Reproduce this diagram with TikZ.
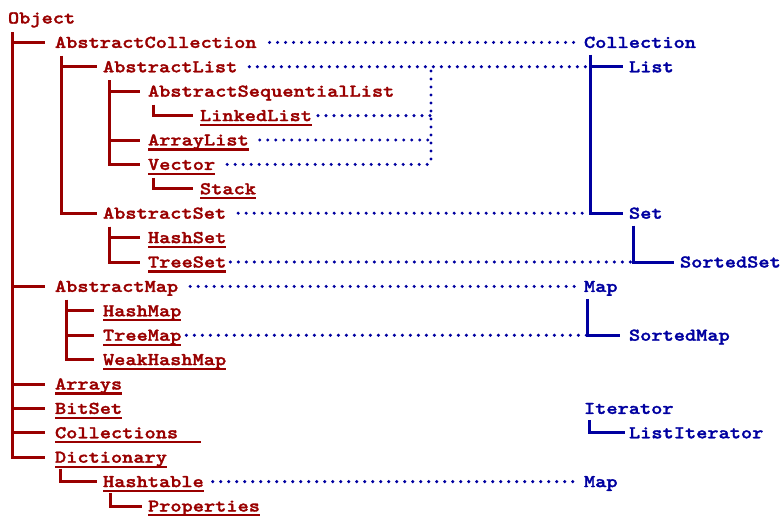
\documentclass[tikz,border=0pt]{standalone}
\usepackage{fontspec}
\newfontfamily\cfont{lmmonolt10-bold.otf}[FakeStretch=1.185, FakeBold=1.6]
\usetikzlibrary{calc}
\definecolor{cred}{RGB}{153,0,0}
\definecolor{cblue}{RGB}{0,0,160}
\begin{document}
\begin{tikzpicture}[x=1pt,y=-1pt,
  cls/.style={anchor=base west, inner sep=0pt, outer sep=0pt, text=cred, font=\cfont\fontsize{18}{20}\selectfont},
  ifc/.style={cls, text=cblue},
  tree/.style={draw=cred, line width=3pt},
  itree/.style={draw=cblue, line width=3pt},
  dots/.style={draw=cblue, line width=3.4pt, line cap=round, dash pattern=on 0pt off 8pt},
  ul/.style={draw=cred, line width=2.2pt}]
\useasboundingbox (0,0) rectangle (781,516);
% classes
\node[cls] (obj)  at (8,23.5)   {Object};
\node[cls] (ac)   at (55,47.9)  {AbstractCollection};
\node[cls] (al)   at (103,72.3) {AbstractList};
\node[cls] (asl)  at (148,96.7) {AbstractSequentialList};
\node[cls] (ll)   at (200,121.1) {LinkedList};
\node[cls] (arl)  at (148,145.5) {ArrayList};
\node[cls] (vec)  at (148,169.9) {Vector};
\node[cls] (stk)  at (200,194.3) {Stack};
\node[cls] (as)   at (103,218.7) {AbstractSet};
\node[cls] (hs)   at (148,243.1) {HashSet};
\node[cls] (ts)   at (148,267.5) {TreeSet};
\node[cls] (am)   at (55,291.9) {AbstractMap};
\node[cls] (hm)   at (103,316.3) {HashMap};
\node[cls] (tm)   at (103,340.7) {TreeMap};
\node[cls] (whm)  at (103,365.1) {WeakHashMap};
\node[cls] (arr)  at (55,389.5) {Arrays};
\node[cls] (bs)   at (55,413.9) {BitSet};
\node[cls] (cols) at (55,438.3) {Collections\hphantom{MM}};
\node[cls] (dict) at (55,462.7) {Dictionary};
\node[cls] (ht)   at (103,487.1) {Hashtable};
\node[cls] (prop) at (148,511.5) {Properties};
% interfaces
\node[ifc] (icoll) at (584,47.9)  {Collection};
\node[ifc] (ilist) at (629,72.3)  {List};
\node[ifc] (iset)  at (629,218.7) {Set};
\node[ifc] (isset) at (680,267.5) {SortedSet};
\node[ifc] (imap)  at (584,291.9) {Map};
\node[ifc] (ismap) at (629,340.7) {SortedMap};
\node[ifc] (iit)   at (584,413.9) {Iterator};
\node[ifc] (ilit)  at (629,438.3) {ListIterator};
\node[ifc] (imap2) at (584,487.1) {Map};
% underlines
\foreach \n in {ll,arl,vec,stk,hs,ts,hm,tm,whm,arr,bs,cols,dict,ht,prop}
  \draw[ul] ($(\n.base west)+(0,4)$) -- ($(\n.base east)+(0,4)$);
% class tree
\foreach \c in {ac,am,arr,bs,cols,dict}
  \draw[tree] ($(obj.base west)+(4,9)$) |- ($(\c.base west)+(-10,-5.5)$);
\foreach \c in {al,as}
  \draw[tree] ($(ac.base west)+(6,8)$) |- ($(\c.base west)+(-6,-5.5)$);
\foreach \c in {asl,arl,vec}
  \draw[tree] ($(al.base west)+(6,8)$) |- ($(\c.base west)+(-8,-5.5)$);
\draw[tree] ($(asl.base west)+(5,8)$) |- ($(ll.base west)+(-7,-5.5)$);
\draw[tree] ($(vec.base west)+(5,8)$) |- ($(stk.base west)+(-7,-5.5)$);
\foreach \c in {hs,ts}
  \draw[tree] ($(as.base west)+(6,8)$) |- ($(\c.base west)+(-8,-5.5)$);
\foreach \c in {hm,tm,whm}
  \draw[tree] ($(am.base west)+(11,8)$) |- ($(\c.base west)+(-9,-5.5)$);
\draw[tree] ($(dict.base west)+(5,6)$) |- ($(ht.base west)+(-6,-5.5)$);
\draw[tree] ($(ht.base west)+(7,6)$) |- ($(prop.base west)+(-6,-5.5)$);
% interface tree
\foreach \c in {ilist,iset}
  \draw[itree] ($(icoll.base west)+(6,7)$) |- ($(\c.base west)+(-6,-5.5)$);
\draw[itree] ($(iset.base west)+(4,7)$) |- ($(isset.base west)+(-6,-5.5)$);
\draw[itree] ($(imap.base west)+(3,7)$) |- ($(ismap.base west)+(-9,-5.5)$);
\draw[itree] ($(iit.base west)+(5,6)$) |- ($(ilit.base west)+(-4,-5.5)$);
% implementation dots
\coordinate (lj) at (431,71);
\draw[dots] ($(ac.base east)+(13,-5.5)$) -- ($(icoll.base west)+(-9,-5.5)$);
\draw[dots] ($(al.base east)+(12,-5.5)$) -- ($(ilist.base west)+(-39,-5.5)$);
\draw[dots] ($(ll.base east)+(6,-5.5)$) -- ($(lj |- ll.base)+(0,-5.5)$);
\draw[dots] ($(arl.base east)+(11,-5.5)$) -- ($(lj |- arl.base)+(0,-5.5)$);
\draw[dots] ($(vec.base east)+(12,-5.5)$) -- ($(lj |- vec.base)+(0,-5.5)$);
\draw[dots] (lj) -- ($(lj |- vec.base)+(0,-3)$);
\draw[dots] ($(as.base east)+(12,-5.5)$) -- ($(iset.base west)+(-39,-5.5)$);
\draw[dots] ($(ts.base east)+(4,-5.5)$) -- ($(isset.base west)+(-47,-5.5)$);
\draw[dots] ($(am.base east)+(12,-5.5)$) -- ($(imap.base west)+(-9,-5.5)$);
\draw[dots] ($(tm.base east)+(5,-5.5)$) -- ($(ismap.base west)+(-42,-5.5)$);
\draw[dots] ($(ht.base east)+(9,-5.5)$) -- ($(imap2.base west)+(-9,-5.5)$);
\end{tikzpicture}
\end{document}
